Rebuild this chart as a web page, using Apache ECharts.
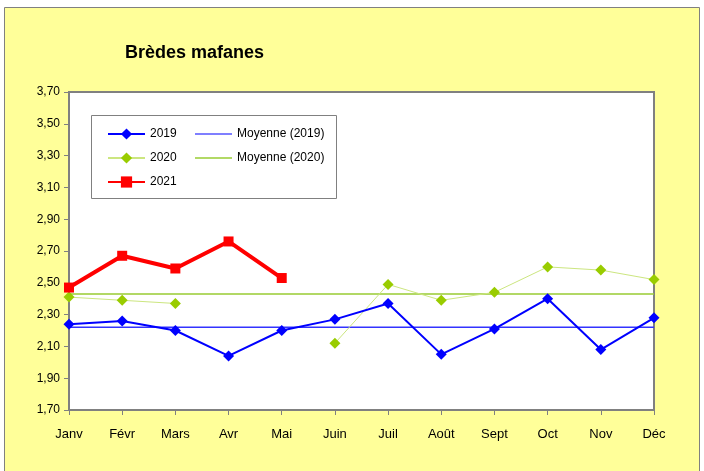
<!DOCTYPE html>
<html lang="fr">
<head>
<meta charset="UTF-8">
<title>Brèdes mafanes</title>
<script src="https://cdn.jsdelivr.net/npm/echarts@6/dist/echarts.min.js"></script>
<style>
  body { margin: 0; background: #fff; }
  #chart { width: 704px; height: 471px; }
</style>
</head>
<body>
<div id="chart"></div>
<script>
  // mois
  var months = ['Janv', 'Févr', 'Mars', 'Avr', 'Mai', 'Juin', 'Juil', 'Août', 'Sept', 'Oct', 'Nov', 'Déc'];

  // prix relevés
  var y2019 = [2.24, 2.26, 2.20, 2.04, 2.20, 2.27, 2.37, 2.05, 2.21, 2.40, 2.08, 2.28];
  var y2020 = [2.41, 2.39, 2.37, null, null, 2.12, 2.49, 2.39, 2.44, 2.60, 2.58, 2.52];
  var y2021 = [2.47, 2.67, 2.59, 2.76, 2.53, null, null, null, null, null, null, null];

  // moyennes annuelles
  var avg2019 = 2.22;
  var avg2020 = 2.43;

  var yMin = 1.70, yMax = 3.70, yStep = 0.20;

  function flat(v) {
    return months.map(function () { return v; });
  }

  var chart = echarts.init(document.getElementById('chart'));
  var font = 'Liberation Sans, Arial, sans-serif';

  chart.setOption({
    animation: false,
    textStyle: { fontFamily: font },
    graphic: [
      {
        type: 'rect', z: -10, silent: true,
        shape: { x: 4.5, y: 7.5, width: 695, height: 470 },
        style: { fill: '#FFFF99', stroke: '#808080', lineWidth: 1 }
      },
      {
        type: 'rect', z: 10, silent: true,
        shape: { x: 91.5, y: 115.5, width: 245, height: 83 },
        style: { fill: '#fff', stroke: '#808080', lineWidth: 1 }
      }
    ],
    title: {
      text: 'Brèdes mafanes',
      left: 120, top: 39,
      textStyle: { fontSize: 18, fontWeight: 'bold', color: '#000', fontFamily: font }
    },
    legend: [
      {
        data: ['2019', '2020', '2021'],
        orient: 'vertical',
        left: 102, top: 123,
        z: 20,
        itemWidth: 37, itemHeight: 14, itemGap: 12,
        textStyle: { fontSize: 12, color: '#000', fontFamily: font }
      },
      {
        data: ['Moyenne (2019)', 'Moyenne (2020)'],
        orient: 'vertical',
        left: 190, top: 122,
        z: 20,
        icon: 'rect',
        itemWidth: 37, itemHeight: 1.5, itemGap: 10,
        textStyle: { fontSize: 12, color: '#000', fontFamily: font, lineHeight: 14 }
      }
    ],
    grid: {
      left: 69, right: 50, top: 92, bottom: 61,
      show: true, backgroundColor: '#fff', borderColor: '#808080', borderWidth: 2
    },
    xAxis: {
      type: 'category',
      data: months,
      boundaryGap: false,
      axisLine: { lineStyle: { color: '#808080', width: 2 } },
      axisTick: { show: true, length: 5, inside: false, lineStyle: { color: '#808080' } },
      axisLabel: { fontSize: 13, color: '#000', margin: 18, fontFamily: font },
      splitLine: { show: false }
    },
    yAxis: {
      type: 'value',
      min: yMin, max: yMax, interval: yStep,
      axisLine: { show: true, lineStyle: { color: '#808080', width: 2 } },
      axisTick: { show: true, length: 5, lineStyle: { color: '#808080' } },
      axisLabel: {
        fontSize: 12, color: '#000', margin: 9, fontFamily: font,
        formatter: function (v) { return v.toFixed(2).replace('.', ','); }
      },
      splitLine: { show: false }
    },
    series: [
      {
        name: '2019', type: 'line', data: y2019,
        symbol: 'diamond', symbolSize: 11,
        itemStyle: { color: '#0000FF' },
        lineStyle: { color: '#0000FF', width: 2 },
        z: 4
      },
      {
        name: '2020', type: 'line', data: y2020,
        symbol: 'diamond', symbolSize: 11,
        itemStyle: { color: '#99CC00' },
        lineStyle: { color: '#CCE680', width: 1 },
        z: 3
      },
      {
        name: '2021', type: 'line', data: y2021,
        symbol: 'rect', symbolSize: 10,
        itemStyle: { color: '#FF0000' },
        lineStyle: { color: '#FF0000', width: 4 },
        z: 5
      },
      {
        name: 'Moyenne (2019)', type: 'line', data: flat(avg2019),
        symbol: 'none',
        itemStyle: { color: '#5555FF' },
        lineStyle: { color: '#3333FF', width: 1.5 },
        z: 2
      },
      {
        name: 'Moyenne (2020)', type: 'line', data: flat(avg2020),
        symbol: 'none',
        itemStyle: { color: '#99CC33' },
        lineStyle: { color: '#99CC33', width: 1.5 },
        z: 2
      }
    ]
  });
</script>
</body>
</html>
